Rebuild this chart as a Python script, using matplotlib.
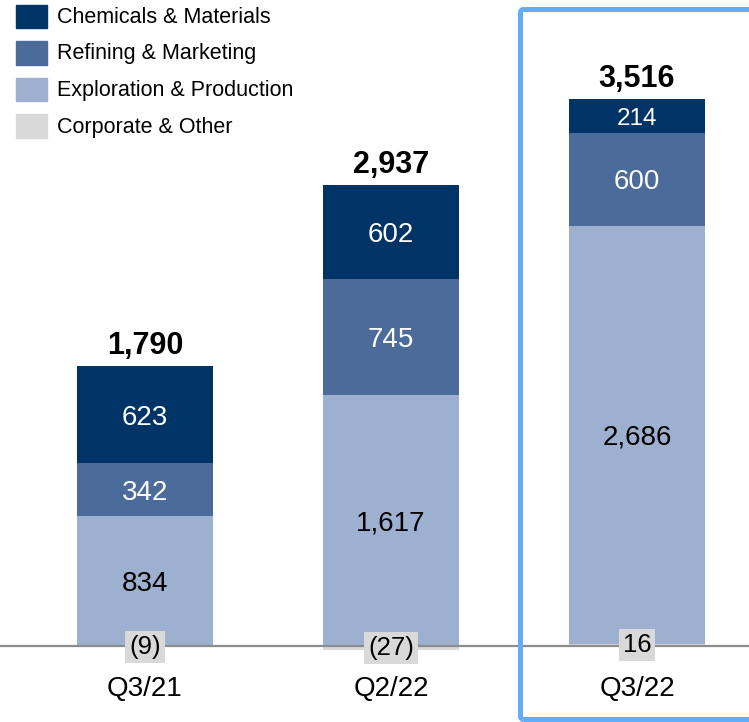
import matplotlib
matplotlib.use("Agg")
import matplotlib.pyplot as plt
from matplotlib.patches import Rectangle, FancyBboxPatch

plt.rcParams["font.family"] = ["Liberation Sans", "DejaVu Sans"]

# data (segment values per quarter)
quarters = ["Q3/21", "Q2/22", "Q3/22"]
series = ["Chemicals & Materials", "Refining & Marketing",
          "Exploration & Production", "Corporate & Other"]
chem = [623, 602, 214]
refin = [342, 745, 600]
explo = [834, 1617, 2686]
corp = [-9, -27, 16]
totals = [1790, 2937, 3516]

colors = {"chem": "#003366", "refin": "#4b6b9b", "explo": "#9db0cf", "corp": "#d9d9d9"}

W, H = 749, 722
fig = plt.figure(figsize=(W / 100, H / 100), dpi=100)
ax = fig.add_axes([0, 0, 1, 1])

# axis scale: 246 px between bars, ~0.1555 px per unit, baseline 76 px from bottom
px_per_x, px_per_y = 246.0, 0.1555
x0 = -145 / px_per_x
ax.set_xlim(x0, x0 + W / px_per_x)
ax.set_ylim(-76 / px_per_y, (H - 76) / px_per_y)
ax.axis("off")

x = list(range(len(quarters)))
bw = 136 / px_per_x

def fmt(v):
    return f"({abs(v):,})" if v < 0 else f"{v:,}"

def seg_label(xi, bottom, val, color, size=20):
    ax.annotate(fmt(val), (xi, bottom + val / 2), xytext=(0, -0.36 * size * 1.389),
                textcoords="offset pixels", ha="center", va="baseline",
                fontsize=size, color=color)

for i in x:
    c = corp[i]
    ax.bar(i, c, bw, bottom=0, color=colors["corp"], zorder=2)
    b = max(c, 0)
    ax.bar(i, explo[i], bw, bottom=b, color=colors["explo"], zorder=2)
    seg_label(i, b, explo[i], "black")
    b += explo[i]
    ax.bar(i, refin[i], bw, bottom=b, color=colors["refin"], zorder=2)
    seg_label(i, b, refin[i], "white")
    b += refin[i]
    ax.bar(i, chem[i], bw, bottom=b, color=colors["chem"], zorder=2)
    seg_label(i, b, chem[i], "white", 17.5 if chem[i] < 250 else 20)
    b += chem[i]
    # total on top
    ax.annotate(f"{totals[i]:,}", (i, b), xytext=(0, 12), textcoords="offset pixels",
                ha="center", va="baseline", fontsize=22, fontweight="bold")
    # corporate label in grey box
    ax.annotate(fmt(c), (i, c / 2), xytext=(0, 0), textcoords="offset pixels",
                ha="center", va="center", fontsize=18.5, zorder=5,
                bbox=dict(boxstyle="square,pad=0.15", fc=colors["corp"], ec="none"))
    # category label
    ax.annotate(quarters[i], (i, 0), xytext=(0, -43), textcoords="offset pixels",
                ha="center", va="center", fontsize=20)

ax.axhline(0, color="#8c8c8c", lw=1.6, zorder=3)

# legend drawn by hand
leg_cols = [colors["chem"], colors["refin"], colors["explo"], colors["corp"]]
for k, (name, col) in enumerate(zip(series, leg_cols)):
    yc = 16.5 + 36.5 * k
    fig.patches.append(Rectangle((16 / W, 1 - (yc + 11.5) / H), 31 / W, 23 / H,
                                 transform=fig.transFigure, color=col))
    fig.text(57 / W, 1 - (yc + 1) / H, name, ha="left", va="center", fontsize=15.5)

# highlight box around the latest quarter
fig.patches.append(FancyBboxPatch((520.5 / W, 2.5 / H), 300 / W, 710 / H,
                                  boxstyle="round,pad=0,rounding_size=0.004",
                                  transform=fig.transFigure, fill=False,
                                  ec="#62adf7", lw=3.6, zorder=10))

fig.savefig("out.png", dpi=100)
